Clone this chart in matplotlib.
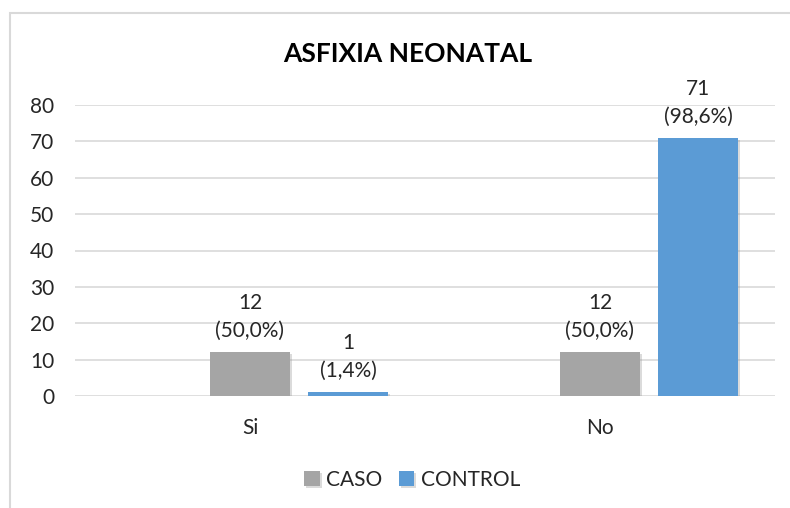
import matplotlib
matplotlib.use("Agg")
import matplotlib.pyplot as plt
import matplotlib.patheffects as pe
from matplotlib.patches import Rectangle
import numpy as np

categorias = ["Si", "No"]
caso = [12, 12]
control = [1, 71]
caso_pct = ["50,0%", "50,0%"]
control_pct = ["1,4%", "98,6%"]

plt.rcParams['font.family'] = ['Lato', 'DejaVu Sans']

fig = plt.figure(figsize=(7.9, 5.08), dpi=100)
ax = fig.add_axes([75/790, 1 - 396/508, 700/790, 291/508])

x = np.arange(len(categorias))
ancho = 0.226
desp = 0.28

sombra = [pe.SimplePatchShadow(offset=(1.5, -1.5), shadow_rgbFace='#999999', alpha=0.35), pe.Normal()]
b1 = ax.bar(x, caso, ancho, color="#A5A5A5", label="CASO", zorder=3, path_effects=sombra)
b2 = ax.bar(x + desp, control, ancho, color="#5B9BD5", label="CONTROL", zorder=3, path_effects=sombra)

for xi, v, p in zip(x, caso, caso_pct):
    ax.annotate(f"{v}\n({p})", (xi, v), xytext=(0, 8), textcoords="offset points",
                ha="center", va="bottom", fontsize=15, linespacing=1.5, color="#262626")
for xi, v, p in zip(x + desp, control, control_pct):
    ax.annotate(f"{v}\n({p})", (xi, v), xytext=(0, 8), textcoords="offset points",
                ha="center", va="bottom", fontsize=15, linespacing=1.5, color="#262626")

ax.set_xlim(-0.5, 1.5)
ax.set_ylim(0, 80)
ax.set_yticks(range(0, 81, 10))
ax.set_xticks(x)
ax.set_xticklabels(categorias)
ax.tick_params(axis="both", length=0, labelsize=15, colors="#262626")
ax.tick_params(axis="y", pad=15)
ax.tick_params(axis="x", pad=16)
ax.yaxis.grid(True, color="#D9D9D9", linewidth=1.2, zorder=0)
for s in ax.spines.values():
    s.set_visible(False)
ax.set_axisbelow(True)

fig.text(408/790, 1 - 54/508, "ASFIXIA NEONATAL", ha="center", va="center",
         fontsize=19, fontweight="bold", color="black")

fig.legend(handles=[b1, b2], loc="center", bbox_to_anchor=(412/790, 1 - 480/508), ncol=2,
           frameon=False, fontsize=15, handlelength=0.75, handleheight=0.75,
           handletextpad=0.3, columnspacing=0.8, labelcolor="#262626")

fig.patches.append(Rectangle((10/790, -0.05), 1.1, 1 - 13/508 + 0.05, transform=fig.transFigure,
                             fill=False, edgecolor="#D9D9D9", linewidth=1.5, clip_on=False))

fig.savefig("out.png", dpi=100)
